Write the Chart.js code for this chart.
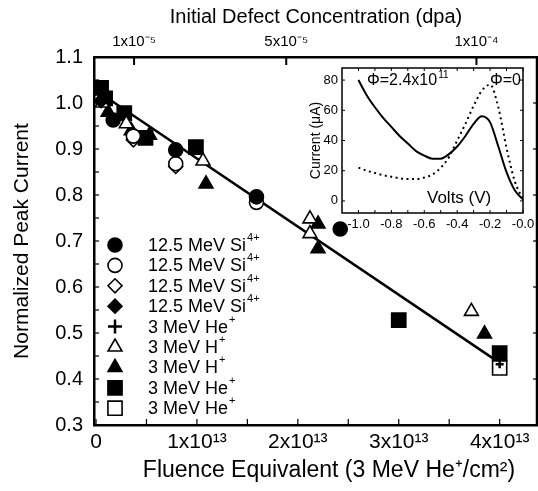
<!DOCTYPE html>
<html lang="en">
<head>
<meta charset="utf-8">
<title>Normalized Peak Current vs Fluence</title>
<script src="https://cdn.jsdelivr.net/npm/chart.js@4.4.0/dist/chart.umd.min.js"></script>
<style>
  body { margin: 0; background: #fff; }
  #wrap { position: relative; width: 538px; height: 491px; }
  #main { position: absolute; left: 0; top: 0; }
  #inset { position: absolute; left: 302px; top: 62px; }
</style>
</head>
<body>
<div id="wrap">
  <canvas id="main" width="538" height="491"></canvas>
  <canvas id="inset" width="236" height="172"></canvas>
</div>

<script>
const FONT = "'Liberation Sans', Arial, Helvetica, sans-serif";

// main plot: fluence in units of 1e13 He+/cm2 -> normalized peak current
const siCircleFilled  = [[0.17, 0.963], [0.79, 0.898], [1.59, 0.796], [2.42, 0.726]];
const siCircleOpen    = [[0.37, 0.928], [0.79, 0.868], [1.59, 0.784]];
const siDiamondOpen   = [[0.37, 0.920], [0.79, 0.862]];
const siDiamondFilled = [[0.05, 1.005]];
const hePlus          = [[4.00, 0.432]];
const hTriOpen        = [[0.06, 1.000], [0.30, 0.955], [1.06, 0.874], [2.12, 0.748], [2.12, 0.716], [3.72, 0.547]];
const hTriFilled      = [[0.12, 0.980], [0.35, 0.940], [0.53, 0.930], [1.09, 0.824], [2.20, 0.737], [2.20, 0.683], [3.85, 0.498]];
const heSquareFilled  = [[0.05, 1.033], [0.09, 1.010], [0.28, 0.978], [0.49, 0.924], [0.99, 0.904], [3.00, 0.528], [4.00, 0.456]];
const heSquareOpen    = [[4.00, 0.424]];
const fitLine         = [[0.05, 1.020], [4.00, 0.435]];

const seriesLabels = ['12.5 MeV Si^4+', '12.5 MeV Si^4+', '12.5 MeV Si^4+', '12.5 MeV Si^4+',
                      '3 MeV He^+', '3 MeV H^+', '3 MeV H^+', '3 MeV He^+', '3 MeV He^+'];

// axes
const fluenceTicks = [0, 1, 2, 3, 4];
const fluenceLabels = ['0', '1x10¹³', '2x10¹³', '3x10¹³', '4x10¹³'];
const currentTicks = [0.3, 0.4, 0.5, 0.6, 0.7, 0.8, 0.9, 1.0, 1.1];
const dpaTicks = [1, 5, 10];               // units of 1e-5 dpa
const dpaLabels = ['1x10⁻⁵', '5x10⁻⁵', '1x10⁻⁴'];
const fluencePerDpa = 0.377;               // 1e13 cm-2 per 1e-5 dpa
const xMin = -0.02, xMax = 4.38;
const xTitle = 'Fluence Equivalent (3 MeV He⁺/cm²)';

// inset: volts -> current (uA)
const volts = [-1.00, -0.95, -0.90, -0.85, -0.80, -0.75, -0.70, -0.65, -0.60, -0.55, -0.50,
               -0.45, -0.40, -0.35, -0.30, -0.25, -0.20, -0.15, -0.10, -0.05, 0.00];
const currentIrradiated = [80, 70, 62, 55, 49, 43, 38, 33, 30, 28, 28,
                           31, 36, 43, 51, 56, 52, 36, 19, 7, 1];
const currentPristine   = [22, 20, 18.5, 17, 16, 15, 14.5, 14.5, 15.5, 17.5, 22,
                           29, 40, 51, 63, 73, 77, 62, 35, 13, 1];
const voltTicks = [-1.0, -0.8, -0.6, -0.4, -0.2, 0];
const voltLabels = ['-1.0', '-0.8', '-0.6', '-0.4', '-0.2', '-0.0'];
const insetCurrentTicks = [0, 20, 40, 60, 80];

function pts(arr) { return arr.map(p => ({ x: p[0], y: p[1] })); }

function markerSet(label, data, style, filled, radius) {
  return {
    label: label,
    data: pts(data),
    pointStyle: style,
    pointRadius: radius,
    pointHoverRadius: radius,
    pointBackgroundColor: filled ? '#000' : '#fff',
    pointBorderColor: '#000',
    pointBorderWidth: style === 'cross' ? 2.5 : 1.6,
    showLine: false,
    order: 1
  };
}

// keep the plot box fixed: no extra room for overhanging tick labels
function fixSize(prop, size) {
  return s => {
    s[prop] = size;
    s.paddingLeft = 0; s.paddingRight = 0; s.paddingTop = 0; s.paddingBottom = 0;
  };
}

// text with a simple ^superscript part
function drawRich(ctx, text, x, y, size) {
  const parts = text.split('^');
  ctx.font = size + 'px ' + FONT;
  ctx.fillText(parts[0], x, y);
  if (parts[1]) {
    const w = ctx.measureText(parts[0]).width;
    ctx.font = Math.round(size * 0.62) + 'px ' + FONT;
    ctx.fillText(parts[1], x + w + 1, y - size * 0.45);
  }
}

function inwardTicks(ctx, scale, values, len, side, area) {
  values.forEach(v => {
    const p = scale.getPixelForValue(v);
    ctx.beginPath();
    if (side === 'left') { ctx.moveTo(area.left, p); ctx.lineTo(area.left + len, p); }
    if (side === 'right') { ctx.moveTo(area.right, p); ctx.lineTo(area.right - len, p); }
    if (side === 'bottom') { ctx.moveTo(p, area.bottom); ctx.lineTo(p, area.bottom - len); }
    if (side === 'top') { ctx.moveTo(p, area.top); ctx.lineTo(p, area.top + len); }
    ctx.stroke();
  });
}

const mainDecor = {
  id: 'mainDecor',
  beforeDraw(chart) {
    const ctx = chart.ctx;
    ctx.save();
    ctx.fillStyle = '#fff';
    ctx.fillRect(0, 0, chart.width, chart.height);
    ctx.restore();
  },
  afterDraw(chart) {
    const ctx = chart.ctx, a = chart.chartArea;
    ctx.save();
    ctx.strokeStyle = '#000';
    // right frame
    ctx.lineWidth = 2.5;
    ctx.beginPath();
    ctx.moveTo(a.right - 1, a.top);
    ctx.lineTo(a.right - 1, a.bottom);
    ctx.stroke();
    ctx.lineWidth = 1.2;
    const yMinor = [];
    for (let v = 0.3; v <= 1.101; v += 0.05) yMinor.push(v);
    const xMinor = [];
    for (let v = 0; v <= 4.301; v += 0.5) xMinor.push(v);
    inwardTicks(ctx, chart.scales.y, yMinor, 5, 'left', a);
    inwardTicks(ctx, chart.scales.y, currentTicks, 5, 'right', a);
    inwardTicks(ctx, chart.scales.x, xMinor, 6, 'bottom', a);
    ctx.lineWidth = 2;
    inwardTicks(ctx, chart.scales.x2, dpaTicks, 8, 'top', a);

    // bottom axis title, sits a little right of the plot centre in the original
    ctx.fillStyle = '#000';
    ctx.font = '23px ' + FONT;
    ctx.textAlign = 'center';
    ctx.textBaseline = 'middle';
    ctx.fillText(xTitle, 329, 471);
    ctx.textAlign = 'left';

    // legend inside plot
    const helpers = Chart.helpers;
    chart.data.datasets.forEach((ds, i) => {
      if (ds.isFit) return;
      const x = a.left + 21, y = 245 + i * 20.4;
      ctx.save();
      ctx.fillStyle = ds.pointBackgroundColor;
      ctx.strokeStyle = '#000';
      ctx.lineWidth = ds.pointBorderWidth;
      const r = ds.pointStyle === 'cross' ? 7 : ds.pointRadius;
      helpers.drawPoint(ctx, { pointStyle: ds.pointStyle, radius: r, borderWidth: ds.pointBorderWidth, rotation: 0 }, x, y);
      ctx.restore();
      ctx.fillStyle = '#000';
      ctx.textBaseline = 'middle';
      drawRich(ctx, seriesLabels[i], a.left + 54, y + 1, 18);
    });
    ctx.restore();
  }
};

const datasets = [
  markerSet(seriesLabels[0], siCircleFilled, 'circle', true, 7),
  markerSet(seriesLabels[1], siCircleOpen, 'circle', false, 7),
  markerSet(seriesLabels[2], siDiamondOpen, 'rectRot', false, 7),
  markerSet(seriesLabels[3], siDiamondFilled, 'rectRot', true, 7),
  markerSet(seriesLabels[4], hePlus, 'cross', false, 4),
  markerSet(seriesLabels[5], hTriOpen, 'triangle', false, 8),
  markerSet(seriesLabels[6], hTriFilled, 'triangle', true, 8),
  markerSet(seriesLabels[7], heSquareFilled, 'rect', true, 10),
  markerSet(seriesLabels[8], heSquareOpen, 'rect', false, 10),
  {
    label: 'fit', isFit: true, type: 'line', data: pts(fitLine),
    borderColor: '#000', borderWidth: 2.5, pointRadius: 0, showLine: true, order: 2
  }
];

new Chart(document.getElementById('main'), {
  type: 'scatter',
  data: { datasets: datasets },
  options: {
    responsive: false,
    animation: false,
    layout: { padding: 0, autoPadding: false },
    plugins: { legend: { display: false }, tooltip: { enabled: false } },
    scales: {
      x: {
        type: 'linear', position: 'bottom', min: xMin, max: xMax,
        afterBuildTicks: s => { s.ticks = fluenceTicks.map(v => ({ value: v })); },
        afterFit: fixSize('height', 66),
        grid: { display: false, drawTicks: false },
        border: { display: true, color: '#000', width: 2.5 },
        ticks: {
          color: '#000', font: { family: FONT, size: 21 }, padding: 5, maxRotation: 0,
          callback: v => fluenceLabels[fluenceTicks.indexOf(v)]
        }
      },
      x2: {
        type: 'linear', position: 'top', min: xMin / fluencePerDpa, max: xMax / fluencePerDpa,
        afterBuildTicks: s => { s.ticks = dpaTicks.map(v => ({ value: v })); },
        afterFit: fixSize('height', 57),
        grid: { display: false, drawTicks: false },
        border: { display: true, color: '#000', width: 2.5 },
        ticks: {
          color: '#000', font: { family: FONT, size: 15 }, padding: 6, maxRotation: 0,
          callback: v => dpaLabels[dpaTicks.indexOf(v)]
        },
        title: {
          display: true, text: 'Initial Defect Concentration (dpa)', color: '#000',
          font: { family: FONT, size: 20 }, padding: { top: 5, bottom: 0 }
        }
      },
      y: {
        type: 'linear', position: 'left', min: 0.3, max: 1.1,
        afterBuildTicks: s => { s.ticks = currentTicks.map(v => ({ value: v })); },
        afterFit: fixSize('width', 94),
        grid: { display: false, drawTicks: false },
        border: { display: true, color: '#000', width: 2.5 },
        ticks: {
          color: '#000', font: { family: FONT, size: 20 }, padding: 11,
          callback: v => v.toFixed(1)
        },
        title: {
          display: true, text: 'Normalized Peak Current', color: '#000',
          font: { family: FONT, size: 21 }, padding: { top: 10, bottom: 0 }
        }
      }
    }
  },
  plugins: [mainDecor]
});

// inset
const insetDecor = {
  id: 'insetDecor',
  beforeDatasetsDraw(chart) {
    const ctx = chart.ctx, a = chart.chartArea;
    ctx.save();
    ctx.fillStyle = '#fff';
    ctx.fillRect(a.left, a.top, a.right - a.left, a.bottom - a.top);
    ctx.restore();
  },
  afterDraw(chart) {
    const ctx = chart.ctx, a = chart.chartArea;
    ctx.save();
    ctx.strokeStyle = '#000';
    ctx.lineWidth = 1.5;
    ctx.strokeRect(a.left, a.top, a.right - a.left, a.bottom - a.top);
    ctx.lineWidth = 1;
    const vMinor = [];
    for (let v = -1.0; v <= 0.001; v += 0.1) vMinor.push(v);
    inwardTicks(ctx, chart.scales.x, vMinor, 3, 'bottom', a);
    inwardTicks(ctx, chart.scales.x, vMinor, 3, 'top', a);
    inwardTicks(ctx, chart.scales.y, insetCurrentTicks, 3, 'left', a);
    inwardTicks(ctx, chart.scales.y, insetCurrentTicks, 3, 'right', a);
    ctx.fillStyle = '#000';
    ctx.textBaseline = 'alphabetic';
    drawRich(ctx, 'Φ=2.4x10^11', a.left + 25, a.top + 17, 16);
    drawRich(ctx, 'Φ=0', a.left + 148, a.top + 17, 16);
    drawRich(ctx, 'Volts (V)', a.left + 85, a.bottom - 10, 17);
    ctx.restore();
  }
};

new Chart(document.getElementById('inset'), {
  type: 'line',
  data: {
    datasets: [
      {
        label: 'Φ=2.4x10¹¹', data: volts.map((v, i) => ({ x: v, y: currentIrradiated[i] })),
        borderColor: '#000', borderWidth: 2, pointRadius: 0, cubicInterpolationMode: 'monotone'
      },
      {
        label: 'Φ=0', data: volts.map((v, i) => ({ x: v, y: currentPristine[i] })),
        borderColor: '#000', borderWidth: 2, borderDash: [2, 3.5], pointRadius: 0, cubicInterpolationMode: 'monotone'
      }
    ]
  },
  options: {
    responsive: false,
    animation: false,
    layout: { padding: { top: 6, right: 15, left: 0, bottom: 0 }, autoPadding: false },
    plugins: { legend: { display: false }, tooltip: { enabled: false } },
    scales: {
      x: {
        type: 'linear', min: -1.1, max: 0,
        afterBuildTicks: s => { s.ticks = voltTicks.map(v => ({ value: v })); },
        afterFit: fixSize('height', 21),
        grid: { display: false, drawTicks: false },
        border: { display: false },
        ticks: {
          color: '#000', font: { family: FONT, size: 13 }, padding: 4, maxRotation: 0,
          callback: v => voltLabels[voltTicks.indexOf(v)]
        }
      },
      y: {
        type: 'linear', min: -8, max: 88,
        afterBuildTicks: s => { s.ticks = insetCurrentTicks.map(v => ({ value: v })); },
        afterFit: fixSize('width', 40),
        grid: { display: false, drawTicks: false },
        border: { display: false },
        ticks: { color: '#000', font: { family: FONT, size: 13 }, padding: 4 },
        title: {
          display: true, text: 'Current (μA)', color: '#000',
          font: { family: FONT, size: 14 }, padding: { top: 6, bottom: 0 }
        }
      }
    }
  },
  plugins: [insetDecor]
});
</script>
</body>
</html>
